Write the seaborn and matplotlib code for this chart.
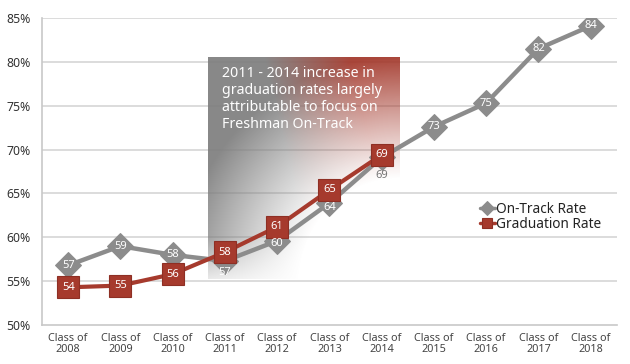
import numpy as np
import pandas as pd
import matplotlib
matplotlib.use("Agg")
import matplotlib.pyplot as plt
import seaborn as sns

categories = ["Class of\n2008", "Class of\n2009", "Class of\n2010", "Class of\n2011",
              "Class of\n2012", "Class of\n2013", "Class of\n2014", "Class of\n2015",
              "Class of\n2016", "Class of\n2017", "Class of\n2018"]
on_track = [56.8, 59.0, 58.0, 57.3, 59.6, 63.9, 69.1, 72.6, 75.3, 81.5, 84.1]
on_track_labels = ["57", "59", "58", "57", "60", "64", "69", "73", "75", "82", "84"]
graduation = [54.3, 54.5, 55.8, 58.3, 61.2, 65.4, 69.4]
graduation_labels = ["54", "55", "56", "58", "61", "65", "69"]
y_ticks = [50, 55, 60, 65, 70, 75, 80, 85]
note = "2011 - 2014 increase in\ngraduation rates largely\nattributable to focus on\nFreshman On-Track"

GRAY = "#8c8c8c"
RED = "#a63a2d"
FONT = ["Noto Sans", "DejaVu Sans"]

sns.set_style("white")
plt.rcParams["font.family"] = FONT

fig = plt.figure(figsize=(6.3, 3.64), dpi=100)
ax = fig.add_axes([0.0667, 0.107, 0.9123, 0.8435])

ax.set_xlim(-0.5, len(categories) - 0.5)
ax.set_ylim(50, 85)

# horizontal grid
for t in y_ticks[1:]:
    ax.axhline(t, color="#d6d6d6", lw=1.2, zorder=0)

# gradient annotation box
bx0, bx1, by0, by1 = 2.67, 6.33, 55.3, 80.5
W, H = 200, 220
u = np.linspace(0, 1, W)[None, :]
v = np.linspace(1, 0, H)[:, None]  # 1 top, 0 bottom
t = np.clip((u - 0.40) / 0.45 + (v - 0.6) * 0.6, 0, 1)
gray_c = np.array([0.50, 0.50, 0.50])
red_c = np.array([0.64, 0.22, 0.17])
rgb = gray_c[None, None, :] * (1 - t[..., None]) + red_c[None, None, :] * t[..., None]
dx = (1 - u) * 0.87
dy = v
d = np.sqrt(dx ** 2 + dy ** 2)
alpha = np.clip((d - 0.45) / 0.55, 0, 1) ** 1.1
alpha = alpha * np.clip(v / 0.25 + 0.25, 0, 1)
alpha = np.clip(alpha, 0, 1) * 0.93
img = np.dstack([rgb, alpha])
ax.imshow(img, extent=[bx0, bx1, by0, by1], aspect="auto", zorder=1, interpolation="bilinear")
ax.text(bx0 + 0.27, 79.5, note, color="white", fontsize=10.2, va="top", ha="left",
        linespacing=1.18, zorder=2, family=FONT, fontweight="medium")

x_on = np.arange(len(on_track))
x_gr = np.arange(len(graduation))
df_on = pd.DataFrame({"x": x_on, "y": on_track})
df_gr = pd.DataFrame({"x": x_gr, "y": graduation})

sns.lineplot(data=df_on, x="x", y="y", ax=ax, color=GRAY, lw=3.2, marker="D",
             markersize=13.5, markeredgecolor=GRAY, label="On-Track Rate", zorder=3)
sns.lineplot(data=df_gr, x="x", y="y", ax=ax, color=RED, lw=3.0, marker="s",
             markersize=16, markeredgecolor="#8e2f24", markeredgewidth=0.8,
             label="Graduation Rate", zorder=4)

# data labels
for i, (val, lab) in enumerate(zip(on_track, on_track_labels)):
    dy = 0
    col = "white"
    if i == 3:
        dy = -1.3
    elif i == 4:
        dy = -0.3
    elif i == 5:
        dy = -0.5
    elif i == 6:
        dy = -2.0
        col = "#777777"
    ax.text(i, val + dy, lab, color=col, fontsize=8, ha="center", va="center",
            fontweight="bold", zorder=5)
for i, (val, lab) in enumerate(zip(graduation, graduation_labels)):
    ax.text(i, val, lab, color="white", fontsize=8, ha="center", va="center",
            fontweight="bold", zorder=6)

ax.set_yticks(y_ticks)
ax.set_yticklabels([f"{t}%" for t in y_ticks], fontsize=8.8, color="#333333")
ax.set_xticks(np.arange(len(categories)))
ax.set_xticklabels(categories, fontsize=7.8, color="#444444", linespacing=1.0)
ax.set_xticks(np.arange(-0.5, len(categories) + 0.5, 1), minor=True)
ax.tick_params(axis="x", which="major", length=0, pad=6)
ax.tick_params(axis="x", which="minor", length=3, color="#bbbbbb", direction="out")
ax.tick_params(axis="y", length=3, color="#bbbbbb", direction="out", pad=5)
ax.set_xlabel("")
ax.set_ylabel("")
for s in ["top", "right"]:
    ax.spines[s].set_visible(False)
for s in ["left", "bottom"]:
    ax.spines[s].set_color("#c8c8c8")
    ax.spines[s].set_linewidth(1.2)

leg = ax.legend(loc="upper left", bbox_to_anchor=(0.752, 0.42), frameon=False,
                fontsize=9.8, handlelength=1.1, handletextpad=0.1, labelspacing=0.05,
                borderaxespad=0)
for h in leg.legend_handles:
    h.set_markersize(7)
    h.set_linewidth(2.5)
for txt in leg.get_texts():
    txt.set_color("#222222")

fig.savefig("out.png", dpi=100)
